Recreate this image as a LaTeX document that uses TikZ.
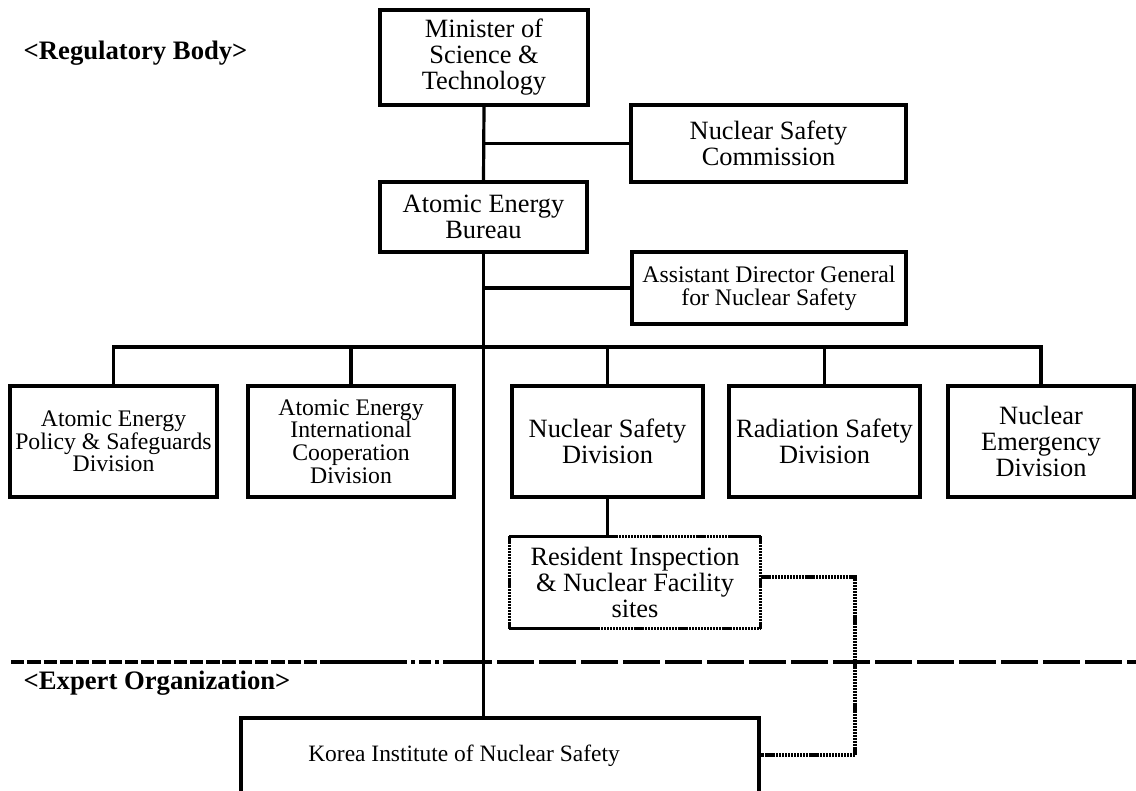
\documentclass[tikz,border=0pt]{standalone}
\usepackage{fontspec}
\setmainfont{Liberation Serif}
\usetikzlibrary{calc}
\begin{document}
\begin{tikzpicture}[x=0.75pt,y=-0.75pt,
  big/.style={font=\fontsize{19.8}{19.5}\selectfont},
  small/.style={font=\fontsize{17.8}{17}\selectfont},
  unit/.style 2 args={draw, line width=2.3pt, inner sep=0pt, align=center,
    minimum width=#1*0.75pt, minimum height=#2*0.75pt},
  link/.style={line width=2.4pt},
  dotline/.style={line width=2.4pt, dash pattern=on 1.6pt off 0.6pt},
  solidedge/.style={line width=2.4pt},
  label/.style={anchor=west, font=\fontsize{20}{22}\selectfont\bfseries}]
\clip (0,0) rectangle (1136,790);

% section labels
\node[label] (lreg) at (19,53) {<Regulatory Body>};
\node[label] (lexp) at (19,683) {<Expert Organization>};

% upper hierarchy
\node[unit={208}{95}, big] (min) at (484,57.5) {Minister of\\Science \&\\Technology};
\node[unit={275}{77}, big] (nsc) at (768.5,143.5) {Nuclear Safety\\Commission};
\node[unit={207}{70}, big] (aeb) at (483.5,217) {Atomic Energy\\Bureau};
\node[unit={274}{72}, small] (adg) at (769,288) {Assistant Director General\\for Nuclear Safety};

% divisions
\node[unit={207}{111}, small] (d1) at (113.5,441.5) {Atomic Energy\\Policy \& Safeguards\\Division};
\node[unit={206}{111}, small] (d2) at (351,441.5) {Atomic Energy\\International\\Cooperation\\Division};
\node[unit={191}{111}, big] (d3) at (607.5,441.5) {Nuclear Safety\\Division};
\node[unit={191}{111}, big] (d4) at (824.5,441.5) {Radiation Safety\\Division};
\node[unit={186}{111}, big] (d5) at (1041,441.5) {Nuclear\\Emergency\\Division};

% resident inspection sites (border drawn below)
\node[unit={248}{89}, big, draw=none] (res) at (635,582.5) {Resident Inspection\\\& Nuclear Facility\\sites};

% expert organization
\node[unit={518}{76}, font=\fontsize{17.6}{19}\selectfont] (kins) at (500,756) {\hspace*{-54pt}Korea Institute of Nuclear Safety};

% main chain
\draw[link] (min.south) -- (aeb.north);
\draw[link] (aeb.south) -- (aeb.south |- kins.north);
\draw[link] (aeb.north |- nsc.west) -- (nsc.west);
\draw[link] (aeb.south |- adg.west) -- (adg.west);

% division bus
\coordinate (bus) at (484,347);
\draw[link] (d1.north) -- (d1.north |- bus) -- (d5.north |- bus) -- (d5.north);
\foreach \d in {d2,d3,d4} \draw[link] (\d.north) -- (\d.north |- bus);

% nuclear safety division to resident sites
\draw[link] (d3.south) -- (d3.south |- res.north);

% resident box border: mixed solid and dotted edges
\draw[solidedge] (res.north west) -- (d3.south |- res.north);
\draw[dotline] (d3.south |- res.north) -- ($(res.north east)+(-31,0)$);
\draw[solidedge] ($(res.north east)+(-31,0)$) -- (res.north east);
\draw[dotline] (res.north east) -- (res.south east);
\draw[dotline] (res.north west) -- (res.south west);
\draw[solidedge] (res.south west) -- ($(res.south west)+(83,0)$);
\draw[dotline] ($(res.south west)+(83,0)$) -- (res.south east);

% dotted link between resident sites and KINS
\coordinate (c1) at (855,577);
\coordinate (c2) at (855,755);
\draw[dotline] (res.east |- c1) -- (c1) -- (c2) -- (kins.east |- c2);

% boundary between regulatory body and expert organization
\coordinate (s0) at (11,662);
\coordinate (s1) at (320,662);
\coordinate (s2) at (395,662);
\coordinate (s3) at (455,662);
\coordinate (s4) at (1136,662);
\draw[line width=2.4pt, dash pattern=on 10pt off 2.2pt] (s0) -- (s1);
\draw[line width=2.4pt] (s1) -- (s2);
\draw[line width=2.4pt, dash pattern=on 9pt off 3pt on 3pt off 3pt] (s2) -- (s3);
\draw[line width=2.4pt, dash pattern=on 27.5pt off 4pt] (s3) -- (s4);
\end{tikzpicture}
\end{document}
